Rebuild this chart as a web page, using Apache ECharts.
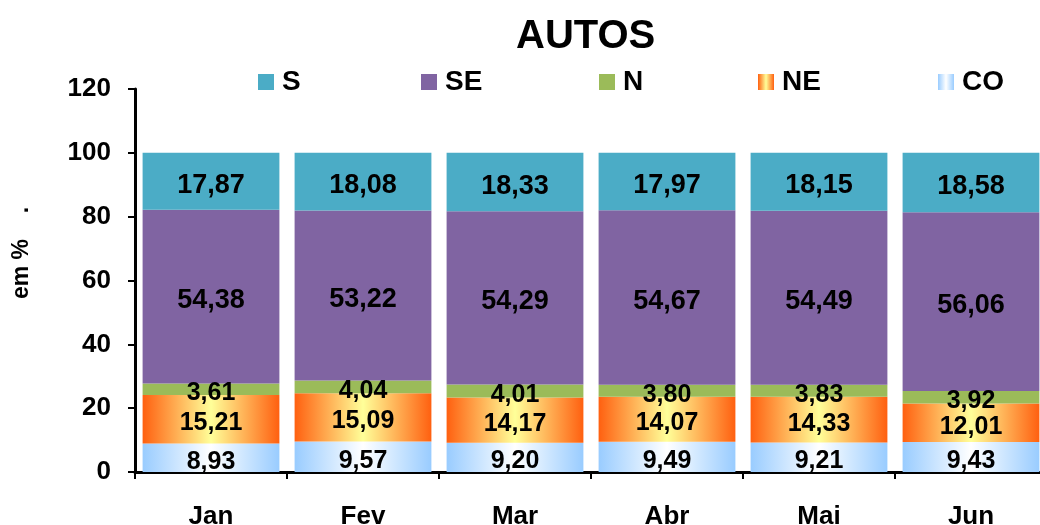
<!DOCTYPE html>
<html>
<head>
<meta charset="utf-8">
<script src="https://cdn.jsdelivr.net/npm/echarts@6/dist/echarts.min.js"></script>
<style>html,body{margin:0;padding:0;background:#fff}#c{width:1040px;height:525px}</style>
</head>
<body>
<div id="c"></div>
<script>
var categories = ['Jan', 'Fev', 'Mar', 'Abr', 'Mai', 'Jun'];
var CO = [8.93, 9.57, 9.20, 9.49, 9.21, 9.43];
var NE = [15.21, 15.09, 14.17, 14.07, 14.33, 12.01];
var N = [3.61, 4.04, 4.01, 3.80, 3.83, 3.92];
var SE = [54.38, 53.22, 54.29, 54.67, 54.49, 56.06];
var S = [17.87, 18.08, 18.33, 17.97, 18.15, 18.58];
var yTicks = [0, 20, 40, 60, 80, 100, 120];

var FONT = '"Liberation Sans", Arial, sans-serif';
function fmt(p) { return p.value.toFixed(2).replace('.', ','); }
function grad(edge, mid) {
  return new echarts.graphic.LinearGradient(0, 0, 1, 0, [
    {offset: 0, color: edge}, {offset: 0.5, color: mid}, {offset: 1, color: edge}
  ]);
}
function mk(name, data, color, fs) {
  return {
    name: name, type: 'bar', stack: 'total', data: data, barCategoryGap: '10%',
    itemStyle: {color: color},
    label: {show: true, position: 'inside', offset: [0, 4], formatter: fmt, color: '#000',
      fontFamily: FONT, fontWeight: 'bold', fontSize: fs}
  };
}
function leg(name, left) {
  return {
    data: [name], left: left, top: 63, icon: 'rect', itemWidth: 16, itemHeight: 16,
    selectedMode: false,
    textStyle: {fontFamily: FONT, fontWeight: 'bold', fontSize: 28, color: '#000', lineHeight: 28, padding: [0, 0, 0, 3]}
  };
}
var chart = echarts.init(document.getElementById('c'));
chart.setOption({
  animation: false,
  title: {text: 'AUTOS', left: 511, top: 12,
    textStyle: {fontFamily: FONT, fontWeight: 'bold', fontSize: 40, color: '#000'}},
  legend: [leg('S', 253), leg('SE', 416), leg('N', 594), leg('NE', 753), leg('CO', 933)],
  grid: {left: 135, top: 89, width: 912, height: 383, outerBoundsMode: 'none', containLabel: false},
  xAxis: {
    type: 'category', data: categories,
    axisLine: {lineStyle: {color: '#000', width: 3}},
    axisTick: {show: true, length: 7, lineStyle: {color: '#000', width: 2}},
    axisLabel: {margin: 32, color: '#000', fontFamily: FONT, fontWeight: 'bold', fontSize: 26}
  },
  yAxis: {
    type: 'value', min: yTicks[0], max: yTicks[yTicks.length - 1], interval: 20,
    axisLine: {show: true, lineStyle: {color: '#000', width: 3}},
    axisTick: {show: true, length: 7, lineStyle: {color: '#000', width: 2}},
    splitLine: {show: false},
    axisLabel: {margin: 24, color: '#000', fontFamily: FONT, fontWeight: 'bold', fontSize: 26}
  },
  graphic: [{
    type: 'text', x: 22, y: 253, rotation: Math.PI / 2,
    style: {text: 'em %    .', fill: '#000', textAlign: 'center', textVerticalAlign: 'middle',
      font: 'bold 23px ' + FONT}
  }],
  series: [
    mk('CO', CO, grad('#99CCFF', '#FFFFFF'), 25),
    mk('NE', NE, grad('#FF6010', '#FFFF99'), 25),
    mk('N', N, '#9BBB59', 25),
    mk('SE', SE, '#8064A2', 27),
    mk('S', S, '#4BACC6', 27)
  ]
});
</script>
</body>
</html>
